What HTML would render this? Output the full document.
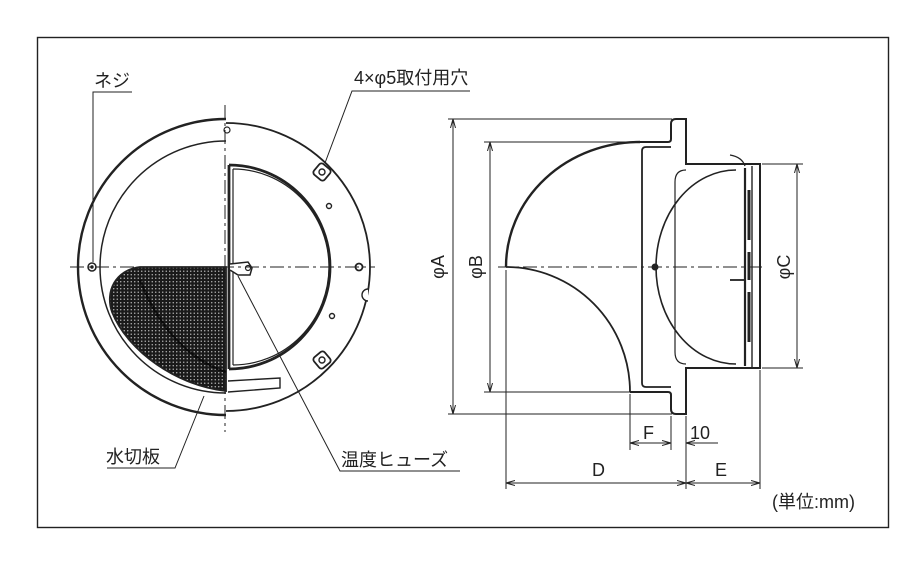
<!DOCTYPE html>
<html><head><meta charset="utf-8"><style>
html,body{margin:0;padding:0;background:#fff;}
svg{display:block;}
text{font-family:"Liberation Sans","Noto Sans CJK JP",sans-serif;fill:#222;}
</style></head><body>
<svg width="918" height="561" viewBox="0 0 918 561" xmlns="http://www.w3.org/2000/svg">
<defs>
<pattern id="mesh" width="3.5" height="3.5" patternUnits="userSpaceOnUse">
<rect width="3.5" height="3.5" fill="#1a1a1a"/><circle cx="1.75" cy="1.75" r="0.7" fill="#bbb"/>
</pattern>
<marker id="ar" markerWidth="9" markerHeight="6" refX="9" refY="3" orient="auto-start-reverse" markerUnits="userSpaceOnUse"><path d="M0,0.5 L9,3 L0,5.5" fill="none" stroke="#222" stroke-width="1"/></marker>
</defs>
<rect x="37.5" y="37.5" width="851" height="490" fill="#fff" stroke="#222" stroke-width="1.4"/>
<g fill="none" stroke="#222">
<!-- left figure: left half -->
<path d="M226,119 A148,148 0 0 0 226,415" stroke-width="2.4"/>
<path d="M226,141 A126,126 0 0 0 226,393" stroke-width="1.5"/>
<path d="M226,267 L140,267 C115,270 105,292 112,312 C128,352 178,386 226,391 Z" fill="url(#mesh)" stroke-width="1.8"/>
<path d="M140,280 C160,330 190,360 226,372" stroke="#000" stroke-width="2.5" opacity="0.6"/>
<circle cx="92" cy="267" r="4" stroke-width="1.5"/><circle cx="92" cy="267" r="1.2" fill="#222"/>
<!-- right half -->
<path d="M226,123 A144,144 0 0 1 226,411" stroke-width="1.8"/>
<path d="M228,381 L280,378 L280,388 L228,392" stroke-width="1.4"/>
<path d="M229,165 A101,102 0 0 1 229,369" stroke-width="2.8"/>
<path d="M233,169 A96,98 0 0 1 233,365" stroke-width="1.2"/>
<line x1="229" y1="165" x2="229" y2="369" stroke-width="2.8"/>
<line x1="233" y1="169" x2="233" y2="365" stroke-width="1.2"/>
<path d="M230,264 L248,262 L252,268 L250,275 L238,275 L230,270" stroke-width="1.5" fill="#fff"/>
<circle cx="248" cy="268" r="2.5" stroke-width="1.2"/>
<rect x="315" y="165" width="14" height="14" rx="3" transform="rotate(40 322 172)" stroke-width="1.8"/>
<circle cx="322" cy="172" r="3" stroke-width="1.4"/>
<rect x="315" y="353" width="14" height="14" rx="3" transform="rotate(-40 322 360)" stroke-width="1.8"/>
<circle cx="322" cy="360" r="3" stroke-width="1.4"/>
<circle cx="329" cy="206" r="2.5" stroke-width="1.4"/>
<circle cx="332" cy="316" r="2.5" stroke-width="1.4"/>
<circle cx="359" cy="267" r="3.5" stroke-width="1.8"/>
<path d="M368,289 A6,6 0 0 0 368,301" stroke-width="1.4" fill="#fff"/>
<circle cx="227" cy="130" r="3" stroke-width="1.2"/>
<!-- centerlines -->
<line x1="70" y1="267" x2="375" y2="267" stroke-width="1" stroke-dasharray="14,4,3,4"/>
<line x1="225" y1="105" x2="225" y2="432" stroke-width="1" stroke-dasharray="14,4,3,4"/>
<!-- leaders -->
<path d="M132,92 L93,92 L93,262" stroke-width="1"/>
<path d="M470,91 L352,91 L325,163" stroke-width="1"/>
<path d="M107,468 L175,468 L204,396" stroke-width="1"/>
<path d="M460,471 L340,471 L238,276" stroke-width="1"/>

<!-- right figure -->
<path d="M506,267 A134,125 0 0 1 640,142" stroke-width="2.4"/>
<path d="M506,267 A124,125 0 0 1 630,392" stroke-width="1.8"/>
<path d="M640,142 L668,142 Q671,142 671,139 L671,124 Q671,119 676,119 L686,119 L686,164 L760,164 L760,368 L686,368 L686,414 L676,414 Q671,414 671,409 L671,395 Q671,392 668,392 L630,392" stroke-width="2"/>
<path d="M671,147 L646,147 Q642,147 642,151 L642,383 Q642,387 646,387 L671,387" stroke-width="1.8"/>
<path d="M686,170 Q675,170 675,182 L675,352 Q675,364 686,364" stroke-width="1.2"/>
<path d="M736,170 A80,97 0 0 0 736,364" stroke-width="1.6"/>
<line x1="745" y1="168" x2="745" y2="366" stroke-width="2.2"/>
<line x1="752" y1="166" x2="752" y2="368" stroke-width="1.4"/>
<path d="M749,190 L749,240 M749,252 L749,280 M749,292 L749,342" stroke-width="3"/>
<path d="M730,155 Q742,157 745,166" stroke-width="1.2"/>
<line x1="730" y1="280" x2="744" y2="280" stroke-width="1.8"/>
<circle cx="655" cy="267" r="3" fill="#222"/>
<line x1="498" y1="267" x2="765" y2="267" stroke-width="1" stroke-dasharray="14,4,3,4"/>
<!-- dims -->
<g stroke-width="1">
<line x1="448" y1="119" x2="672" y2="119"/>
<line x1="448" y1="414" x2="672" y2="414"/>
<line x1="453" y1="119" x2="453" y2="414" marker-start="url(#ar)" marker-end="url(#ar)"/>
<line x1="484" y1="142" x2="640" y2="142"/>
<line x1="484" y1="392" x2="630" y2="392"/>
<line x1="490" y1="142" x2="490" y2="392" marker-start="url(#ar)" marker-end="url(#ar)"/>
<line x1="762" y1="164" x2="803" y2="164"/>
<line x1="762" y1="368" x2="803" y2="368"/>
<line x1="797" y1="164" x2="797" y2="368" marker-start="url(#ar)" marker-end="url(#ar)"/>
<line x1="506" y1="270" x2="506" y2="489"/>
<line x1="686" y1="416" x2="686" y2="489"/>
<line x1="760" y1="370" x2="760" y2="489"/>
<line x1="630" y1="394" x2="630" y2="450"/>
<line x1="671" y1="416" x2="671" y2="450"/>
<line x1="506" y1="483" x2="686" y2="483" marker-start="url(#ar)" marker-end="url(#ar)"/>
<line x1="686" y1="483" x2="760" y2="483" marker-start="url(#ar)" marker-end="url(#ar)"/>
<line x1="630" y1="443" x2="671" y2="443" marker-start="url(#ar)" marker-end="url(#ar)"/>
<line x1="718" y1="443" x2="686" y2="443" marker-end="url(#ar)"/>
</g>
</g>
<g font-size="18">
<text x="94" y="87">ネジ</text>
<text x="354" y="84">4×φ5取付用穴</text>
<text x="106" y="463">水切板</text>
<text x="341" y="466">温度ヒューズ</text>
<text x="643" y="439">F</text>
<text x="690" y="439">10</text>
<text x="592" y="476">D</text>
<text x="715" y="476">E</text>
<text x="772" y="508">(単位:mm)</text>
<text transform="translate(444,267) rotate(-90)" text-anchor="middle">φA</text>
<text transform="translate(482,267) rotate(-90)" text-anchor="middle">φB</text>
<text transform="translate(790,267) rotate(-90)" text-anchor="middle">φC</text>
</g>
</svg>
</body></html>
